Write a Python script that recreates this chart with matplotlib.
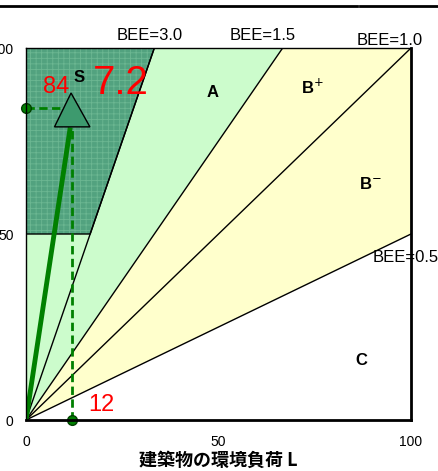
import matplotlib
matplotlib.use('Agg')
import matplotlib.pyplot as plt
import numpy as np
from matplotlib.patches import Polygon

plt.rcParams['font.family'] = ['Liberation Sans', 'Noto Sans CJK JP', 'DejaVu Sans']
plt.rcParams['hatch.linewidth'] = 0.6

# BEE boundary slopes (Q = BEE * L)
bee_values = [3.0, 1.5, 1.0, 0.5]
bee_labels = ['BEE=3.0', 'BEE=1.5', 'BEE=1.0', 'BEE=0.5']
rank_labels = ['S', 'A', 'B$^{+}$', 'B$^{-}$', 'C']

# building result
L_val = 12
Q_val = 84
bee_result = '7.2'

fig = plt.figure(figsize=(4.38, 4.71), dpi=100)
ax = fig.add_axes([26 / 438, 51 / 471, 385 / 438, 372 / 471])
ax.set_xlim(0, 100)
ax.set_ylim(0, 100)

green_light = '#ccfccc'
yellow_light = '#ffffcc'

def xtop(bee):
    return min(100, 100 / bee)

# A region (between the 3.0 and 1.5 lines and the part under S)
ax.add_patch(Polygon([(0, 0), (0, 100), (xtop(1.5), 100)], closed=True,
                     facecolor=green_light, edgecolor='none', zorder=1))
# B+ and B-
ax.add_patch(Polygon([(0, 0), (xtop(1.5), 100), (100, 100), (100, 100 * 0.5)], closed=True,
                     facecolor=yellow_light, edgecolor='none', zorder=1))
# S
s_poly = [(0, 50), (0, 100), (xtop(3.0), 100), (50 / 3.0, 50)]
ax.add_patch(Polygon(s_poly, closed=True, facecolor='#52a27f', edgecolor='#6cb792',
                     hatch='+++', linewidth=0, zorder=2))
ax.add_patch(Polygon(s_poly, closed=True, facecolor='none', edgecolor='black',
                     linewidth=1, zorder=3))

# boundary lines
for b in bee_values:
    xe = xtop(b)
    ax.plot([0, xe], [0, b * xe], color='black', linewidth=1, zorder=3)

# BEE labels
ax.text(32, 101.3, bee_labels[0], fontsize=12, ha='center', va='bottom', zorder=5)
ax.text(61.6, 101.3, bee_labels[1], fontsize=12, ha='center', va='bottom', zorder=5)
ax.text(94.5, 100.0, bee_labels[2], fontsize=12, ha='center', va='bottom', zorder=5)
ax.text(90, 43.8, bee_labels[3], fontsize=12, ha='left', va='center', zorder=5)

# rank labels
ax.text(13.8, 92, rank_labels[0], fontsize=12, fontweight='bold', ha='center', va='center', zorder=6)
ax.text(48.5, 88, rank_labels[1], fontsize=12, fontweight='bold', ha='center', va='center', zorder=5)
ax.text(74.5, 89.5, rank_labels[2], fontsize=12, fontweight='bold', ha='center', va='center', zorder=5)
ax.text(89.5, 63.5, rank_labels[3], fontsize=12, fontweight='bold', ha='center', va='center', zorder=5)
ax.text(87, 16, rank_labels[4], fontsize=12, fontweight='bold', ha='center', va='center', zorder=5)

# result point
ax.plot([0, L_val], [Q_val, Q_val], color='#008000', linestyle=(0, (3, 1.6)), linewidth=2, zorder=6)
ax.plot([L_val, L_val], [0, Q_val], color='#008000', linestyle=(0, (3, 1.6)), linewidth=2, zorder=6)
ax.plot([0, L_val - 0.6], [0, Q_val - 6], color='#008000', linewidth=3.5, zorder=6)
ax.plot([0, L_val], [Q_val, 0], linestyle='none', marker='o', markersize=7,
        markerfacecolor='#008000', markeredgecolor='#004000', clip_on=False, zorder=8)
tri = [(L_val - 4.6, Q_val - 5.2), (L_val + 4.6, Q_val - 5.2), (L_val - 0.3, Q_val + 3.9)]
ax.add_patch(Polygon(tri, closed=True, facecolor='#3d9a6e', edgecolor='black',
                     linewidth=1, zorder=7))

ax.text(7.8, 89.5, str(Q_val), color='red', fontsize=17, ha='center', va='center', zorder=8)
ax.text(24.5, 90.5, bee_result, color='red', fontsize=29, ha='center', va='center', zorder=8)
ax.text(19.5, 4, str(L_val), color='red', fontsize=17, ha='center', va='center', zorder=8)

# axes styling
ax.set_xticks([0, 50, 100])
ax.set_yticks([0, 50, 100])
ax.set_xticklabels(['0', '50', '100'], fontsize=10)
ax.set_yticklabels(['0', '50', '100'], fontsize=10)
ax.tick_params(axis='x', length=0, pad=11)
ax.tick_params(axis='y', length=0, pad=9)
for side in ['left', 'top']:
    ax.spines[side].set_linewidth(1)
for side in ['right', 'bottom']:
    ax.spines[side].set_linewidth(2)
for sp in ax.spines.values():
    sp.set_zorder(9)
ax.set_xlabel('建築物の環境負荷 L', fontsize=13, fontweight='bold',
              family=['Noto Sans CJK JP', 'DejaVu Sans'], labelpad=1)

# top border lines of the page table
fig.add_artist(plt.Line2D([0, 357 / 438], [465 / 471, 465 / 471], color='black', linewidth=2))
fig.add_artist(plt.Line2D([360 / 438, 1], [465 / 471, 465 / 471], color='black', linewidth=2))

fig.savefig('out.png', dpi=100)
